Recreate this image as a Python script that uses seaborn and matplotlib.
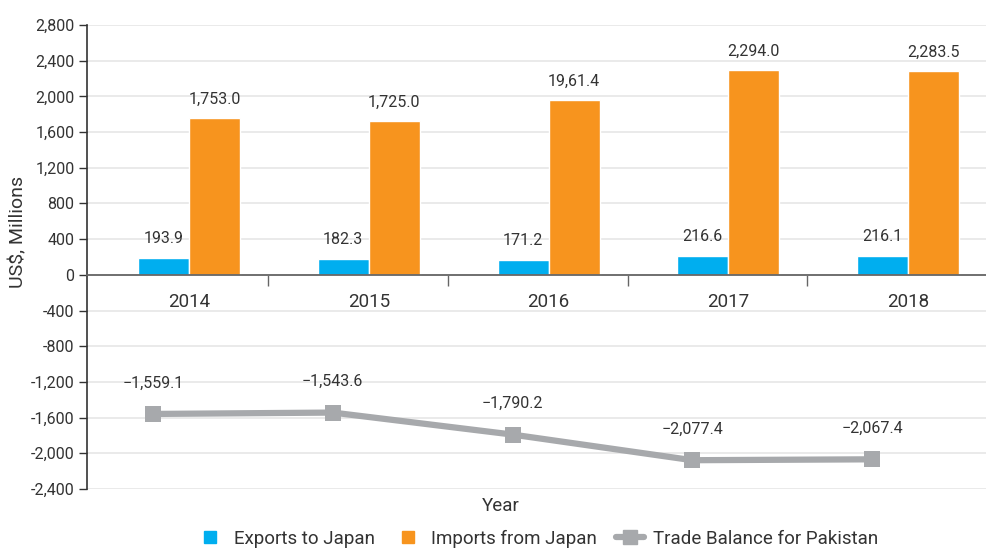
import numpy as np
import pandas as pd
import seaborn as sns
import matplotlib.pyplot as plt
import matplotlib.lines as mlines
from matplotlib.ticker import FuncFormatter, FixedLocator

years = ["2014", "2015", "2016", "2017", "2018"]
exports = [193.9, 182.3, 171.2, 216.6, 216.1]
imports = [1753.0, 1725.0, 1961.4, 2294.0, 2283.5]
balance = [-1559.1, -1543.6, -1790.2, -2077.4, -2067.4]
import_labels = ["1,753.0", "1,725.0", "19,61.4", "2,294.0", "2,283.5"]

blue = "#00AEEF"
orange = "#F7941E"
grey = "#A7A9AC"
text_col = "#333333"

sns.set_theme(style="white")
plt.rcParams["font.family"] = ["Roboto", "DejaVu Sans"]

df = pd.DataFrame({
    "Year": years * 2,
    "Value": exports + imports,
    "Series": ["Exports to Japan"] * 5 + ["Imports from Japan"] * 5,
})

fig = plt.figure(figsize=(9.86, 5.49), dpi=100)
ax = fig.add_axes([0.0882, 0.1093, 0.912, 0.8452])

sns.barplot(data=df, x="Year", y="Value", hue="Series", palette=[blue, orange],
            width=0.567, ax=ax, legend=False, saturation=1)

pos = np.arange(len(years))
sns.lineplot(x=pos - 0.2, y=balance, color=grey, linewidth=4.5, marker="s",
             markersize=11, markeredgewidth=0, ax=ax, legend=False)

# value labels
for i in range(len(years)):
    ax.annotate(f"{exports[i]:.1f}", (pos[i] - 0.1417, exports[i]), xytext=(0, 8),
                textcoords="offset points", ha="center", va="bottom",
                fontsize=11.5, color=text_col)
    ax.annotate(import_labels[i], (pos[i] + 0.1417, imports[i]), xytext=(0, 8),
                textcoords="offset points", ha="center", va="bottom",
                fontsize=11.5, color=text_col)
    ax.annotate(f"\u2212{abs(balance[i]):,.1f}", (pos[i] - 0.2, balance[i]), xytext=(0, 17),
                textcoords="offset points", ha="center", va="bottom",
                fontsize=11.5, color=text_col)

ax.set_ylim(-2400, 2800)
ax.set_xlim(-0.567, 4.434)
ax.set_yticks(np.arange(-2400, 2801, 400))
ax.yaxis.set_major_formatter(FuncFormatter(lambda v, p: f"{int(v):,}"))
ax.yaxis.grid(True, color="#E6E6E6", linewidth=1.2)
ax.set_axisbelow(True)

ax.spines["top"].set_visible(False)
ax.spines["right"].set_visible(False)
ax.spines["left"].set_color(text_col)
ax.spines["left"].set_linewidth(1.2)
ax.spines["bottom"].set_position(("data", 0))
ax.spines["bottom"].set_color("#666666")
ax.spines["bottom"].set_linewidth(1.3)

ax.tick_params(axis="y", left=True, length=6, width=1, color=text_col,
               labelsize=11.5, labelcolor=text_col, pad=3)
ax.tick_params(axis="x", which="major", length=0, pad=13, labelsize=13.5, labelcolor=text_col)
ax.xaxis.set_minor_locator(FixedLocator(pos[:-1] + 0.44))
ax.tick_params(axis="x", which="minor", bottom=True, length=8, width=1, color="#666666")

ax.set_ylabel("US$, Millions", fontsize=14, color=text_col)
ax.yaxis.set_label_coords(-0.066, 0.554)
ax.set_xlabel("")
fig.text(0.508, 0.079, "Year", ha="center", va="center", fontsize=13.5, color=text_col)

handles = [
    mlines.Line2D([], [], linestyle="none", marker="s", markersize=8, color=blue, label="Exports to Japan"),
    mlines.Line2D([], [], linestyle="none", marker="s", markersize=8, color=orange, label="Imports from Japan"),
    mlines.Line2D([], [], color=grey, linewidth=4.5, marker="s", markersize=10, label="Trade Balance for Pakistan"),
]
fig.legend(handles=handles, loc="center", bbox_to_anchor=(0.545, 0.019), ncol=3, frameon=False,
           fontsize=13.5, handlelength=1.5, handletextpad=0.5, columnspacing=1.0,
           labelcolor=text_col)

fig.savefig("out.png", dpi=100)
